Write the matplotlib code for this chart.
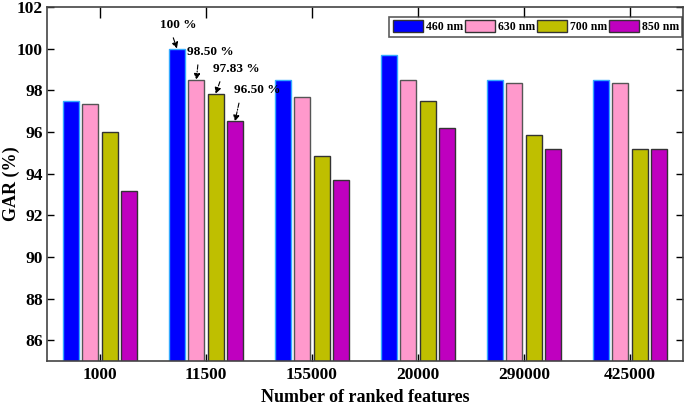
import numpy as np
import matplotlib
matplotlib.use('Agg')
import matplotlib.pyplot as plt

# data
groups = ['1000', '11500', '155000', '20000', '290000', '425000']
series = ['460 nm', '630 nm', '700 nm', '850 nm']
gar_460 = [97.5, 100.0, 98.5, 99.67, 98.5, 98.5]
gar_630 = [97.33, 98.5, 97.67, 98.5, 98.33, 98.33]
gar_700 = [96.0, 97.83, 94.83, 97.5, 95.83, 95.17]
gar_850 = [93.17, 96.5, 93.67, 96.17, 95.17, 95.17]
annot_text = ['100 %', '98.50 %', '97.83 %', '96.50 %']

colors = ['#0000ff', '#ff99cc', '#bfbf00', '#bf00bf']
edges = ['#33aaff', '#555555', '#333333', '#333333']

plt.rcParams['font.family'] = ['Liberation Serif', 'DejaVu Serif']
plt.rcParams['font.weight'] = 'bold'

fig = plt.figure(figsize=(6.85, 4.09), dpi=100)
ax = fig.add_axes([0.0686, 0.1174, 0.9284, 0.8656])

x = np.arange(len(groups))
width = 0.15
step = 0.182
all_vals = [gar_460, gar_630, gar_700, gar_850]
for i, vals in enumerate(all_vals):
    off = (i - 1.5) * step
    ax.bar(x + off, vals, width, color=colors[i], edgecolor=edges[i],
           linewidth=1.0, label=series[i])

# annotations on the 11500 group: (x offset of text, y of text, arrow start fraction)
text_pos = [(-0.434, 101.13, 0.3), (-0.18, 99.84, 0.25), (0.066, 99.02, 0.2), (0.264, 98.0, 0.14)]
for i in range(4):
    off = (i - 1.5) * step
    ax.annotate(annot_text[i], xy=(1 + off, all_vals[i][1]),
                xytext=(1 + text_pos[i][0], text_pos[i][1]),
                fontsize=9.5, fontweight='bold', ha='left', va='center',
                arrowprops=dict(arrowstyle='-|>', linestyle=(0, (4, 1.5, 1, 1.5)),
                                color='black', lw=0.8, mutation_scale=9,
                                relpos=(text_pos[i][2], 0.0),
                                shrinkA=3, shrinkB=0))

ax.set_xlim(-0.5, 5.5)
ax.set_ylim(85, 102)
ax.set_yticks(np.arange(86, 103, 2))
ax.set_xticks(x)
ax.set_xticklabels(groups)
ax.tick_params(axis='y', direction='in', length=5, labelsize=12.5, right=True, width=1, pad=3)
ax.tick_params(axis='x', direction='in', length=8, labelsize=12.5, top=True, width=1, pad=4)
for t in ax.xaxis.get_major_ticks():
    t.tick1line.set_markersize(5)
for lab in ax.get_xticklabels() + ax.get_yticklabels():
    lab.set_fontweight('bold')
for s in ax.spines.values():
    s.set_color('#444444')
    s.set_linewidth(1.2)

ax.set_xlabel('Number of ranked features', fontsize=13, fontweight='bold', labelpad=5)
ax.set_ylabel('GAR (%)', fontsize=13, fontweight='bold')
ax.yaxis.set_label_coords(-0.042, 0.5)

leg = ax.legend(loc='upper right', bbox_to_anchor=(0.999, 0.972), ncol=4,
                frameon=True, fancybox=False,
                handlelength=2.6, handleheight=1.1, handletextpad=0.2,
                columnspacing=0.15, borderpad=0.3, borderaxespad=0.0,
                prop={'weight': 'bold', 'size': 8.5})
leg.get_frame().set_edgecolor('#333333')
leg.get_frame().set_linewidth(1.2)
for h in leg.legend_handles:
    h.set_edgecolor('#333333')

fig.savefig('out.png', dpi=100)
